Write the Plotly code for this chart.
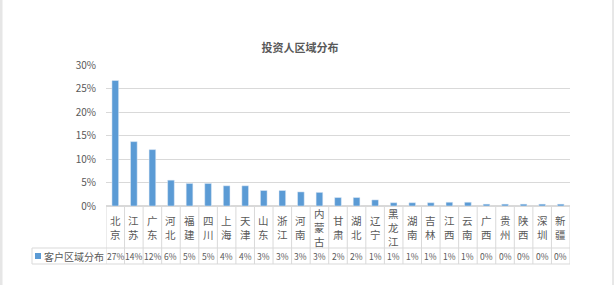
import plotly.graph_objects as go

categories = ["北京", "江苏", "广东", "河北", "福建", "四川", "上海", "天津", "山东", "浙江",
              "河南", "内蒙古", "甘肃", "湖北", "辽宁", "黑龙江", "湖南", "吉林", "江西", "云南",
              "广西", "贵州", "陕西", "深圳", "新疆"]
values = [0.267, 0.137, 0.120, 0.055, 0.048, 0.048, 0.043, 0.043, 0.033, 0.033,
          0.030, 0.029, 0.018, 0.018, 0.013, 0.007, 0.007, 0.007, 0.008, 0.008,
          0.004, 0.004, 0.004, 0.004, 0.004]
value_labels = ["27%", "14%", "12%", "6%", "5%", "5%", "4%", "4%", "3%", "3%",
                "3%", "3%", "2%", "2%", "1%", "1%", "1%", "1%", "1%", "1%",
                "0%", "0%", "0%", "0%", "0%"]
series_name = "客户区域分布"
title = "投资人区域分布"
yticks = [0, 0.05, 0.10, 0.15, 0.20, 0.25, 0.30]

W, H = 614, 285
L, R, T, B = 106, 570, 65, 206
FONT = "Noto Sans CJK SC"
GRAY = "#595959"
LINE = "#D9D9D9"
BLUE = "#5B9BD5"

def px(x):
    return (x - L) / (R - L)

def py(y):
    return (B - y) / (B - T)

n = len(categories)
fig = go.Figure()
fig.add_trace(go.Bar(x=list(range(n)), y=values, marker_color=BLUE, width=0.36,
                     name=series_name, showlegend=False))

shapes = []
row1_bottom, row2_bottom = 248, 264
for i in range(n + 1):
    shapes.append(dict(type="line", xref="x", yref="paper", x0=i - 0.5, x1=i - 0.5,
                       y0=py(B), y1=py(row2_bottom), line=dict(color=LINE, width=1)))
for yy in (row1_bottom, row2_bottom):
    shapes.append(dict(type="line", xref="paper", yref="paper", x0=px(32), x1=1,
                       y0=py(yy), y1=py(yy), line=dict(color=LINE, width=1)))
shapes.append(dict(type="line", xref="paper", yref="paper", x0=px(32), x1=px(32),
                   y0=py(row1_bottom), y1=py(row2_bottom), line=dict(color=LINE, width=1)))
shapes.append(dict(type="rect", xref="paper", yref="paper", x0=px(35), x1=px(41),
                   y0=py(259), y1=py(253), fillcolor=BLUE, line=dict(width=0)))
shapes.append(dict(type="rect", xref="paper", yref="paper", x0=px(0), x1=px(2.5),
                   y0=py(0), y1=py(H), fillcolor="#E6E6E6", line=dict(width=0)))
shapes.append(dict(type="line", xref="paper", yref="paper", x0=px(613), x1=px(613),
                   y0=py(0), y1=py(H), line=dict(color="#D0D0D0", width=1)))

annotations = []
cell_mid = (B + row1_bottom) / 2 + 0.5
for i, (c, v) in enumerate(zip(categories, value_labels)):
    k = len(c)
    step = 14
    for j, ch in enumerate(c):
        yc = cell_mid + (j - (k - 1) / 2) * step
        annotations.append(dict(x=i, xref="x", y=py(yc), yref="paper", text=ch,
                                showarrow=False, yanchor="middle", borderpad=0,
                                font=dict(family=FONT, size=10.5, color=GRAY)))
    annotations.append(dict(x=i, xref="x", y=py((row1_bottom + row2_bottom) / 2), yref="paper",
                            text=v, showarrow=False, yanchor="middle", borderpad=0,
                            font=dict(family=FONT, size=8.5, color=GRAY)))
annotations.append(dict(x=px(42), xref="paper", y=py((row1_bottom + row2_bottom) / 2), yref="paper",
                        text=series_name, showarrow=False, xanchor="left", yanchor="middle",
                        font=dict(family=FONT, size=10, color=GRAY)))

fig.update_layout(
    width=W, height=H,
    margin=dict(l=L, r=W - R, t=T, b=H - B, pad=0),
    paper_bgcolor="white", plot_bgcolor="white",
    title=dict(text="<b>" + title + "</b>", x=300 / W, xanchor="center", y=1 - 48 / H, yanchor="middle",
               font=dict(family=FONT, size=11, color=GRAY)),
    xaxis=dict(range=[-0.5, n - 0.5], showticklabels=False, showgrid=False, zeroline=False,
               showline=False, ticks="", fixedrange=True),
    yaxis=dict(range=[0, 0.30], tickvals=yticks, tickformat=".0%", showgrid=True, gridcolor=LINE,
               gridwidth=1, zeroline=True, zerolinecolor=LINE, showline=False, ticks="",
               tickfont=dict(family=FONT, size=10, color=GRAY), ticklabelstandoff=9),
    shapes=shapes, annotations=annotations, bargap=0.6,
)

fig.write_html("out.html")
